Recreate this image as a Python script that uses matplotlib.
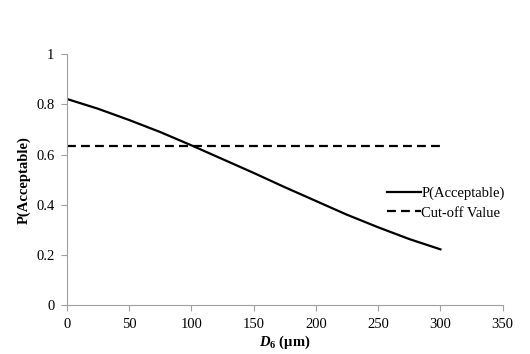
import matplotlib
matplotlib.use("Agg")
import matplotlib.pyplot as plt

x_vals = [0, 25, 50, 75, 100, 125, 150, 175, 200, 225, 250, 275, 300]
p_acceptable = [0.822, 0.783, 0.738, 0.690, 0.637, 0.582, 0.527, 0.470, 0.415, 0.360, 0.310, 0.263, 0.222]
cutoff_x = [0, 300]
cutoff_val = [0.634, 0.634]
x_ticks = [0, 50, 100, 150, 200, 250, 300, 350]
y_ticks = [0, 0.2, 0.4, 0.6, 0.8, 1]

plt.rcParams['font.family'] = ['Liberation Serif', 'DejaVu Serif']
plt.rcParams['mathtext.fontset'] = 'custom'
plt.rcParams['mathtext.rm'] = 'Liberation Serif:bold'
plt.rcParams['mathtext.it'] = 'Liberation Serif:italic:bold'
plt.rcParams['mathtext.bf'] = 'Liberation Serif:bold'

fig = plt.figure(figsize=(5.3, 3.54), dpi=100)
ax = fig.add_axes([0.126, 0.1384, 0.8225, 0.7082])

ax.plot(x_vals, p_acceptable, color='black', lw=1.6, label='P(Acceptable)')
ax.plot(cutoff_x, cutoff_val, color='black', lw=1.6, linestyle=(0, (4, 2.3)), label='Cut-off Value')

ax.set_xlim(0, 350)
ax.set_ylim(0, 1)
ax.set_xticks(x_ticks)
ax.set_yticks(y_ticks)
ax.set_yticklabels(['0', '0.2', '0.4', '0.6', '0.8', '1'])
for s in ['top', 'right']:
    ax.spines[s].set_visible(False)
for s in ['left', 'bottom']:
    ax.spines[s].set_color('#a0a0a0')
    ax.spines[s].set_linewidth(0.8)
ax.tick_params(axis='both', colors='#a0a0a0', labelcolor='black', labelsize=10.5, length=4, width=0.8, direction='out')
ax.tick_params(axis='x', pad=5)
ax.tick_params(axis='y', pad=5)

ax.set_ylabel('P(Acceptable)', fontsize=10.5, fontweight='bold', labelpad=4)
ax.set_xlabel(r'$\mathit{D}_{\mathit{6}}$ (µm)', fontsize=10.5, fontweight='bold', labelpad=2)

leg = ax.legend(loc='center left', bbox_to_anchor=(0.735, 0.407), frameon=False, fontsize=10.5,
                handlelength=2.3, handletextpad=0.05, labelspacing=0.45, borderpad=0, borderaxespad=0)

fig.savefig('out.png', dpi=100)
